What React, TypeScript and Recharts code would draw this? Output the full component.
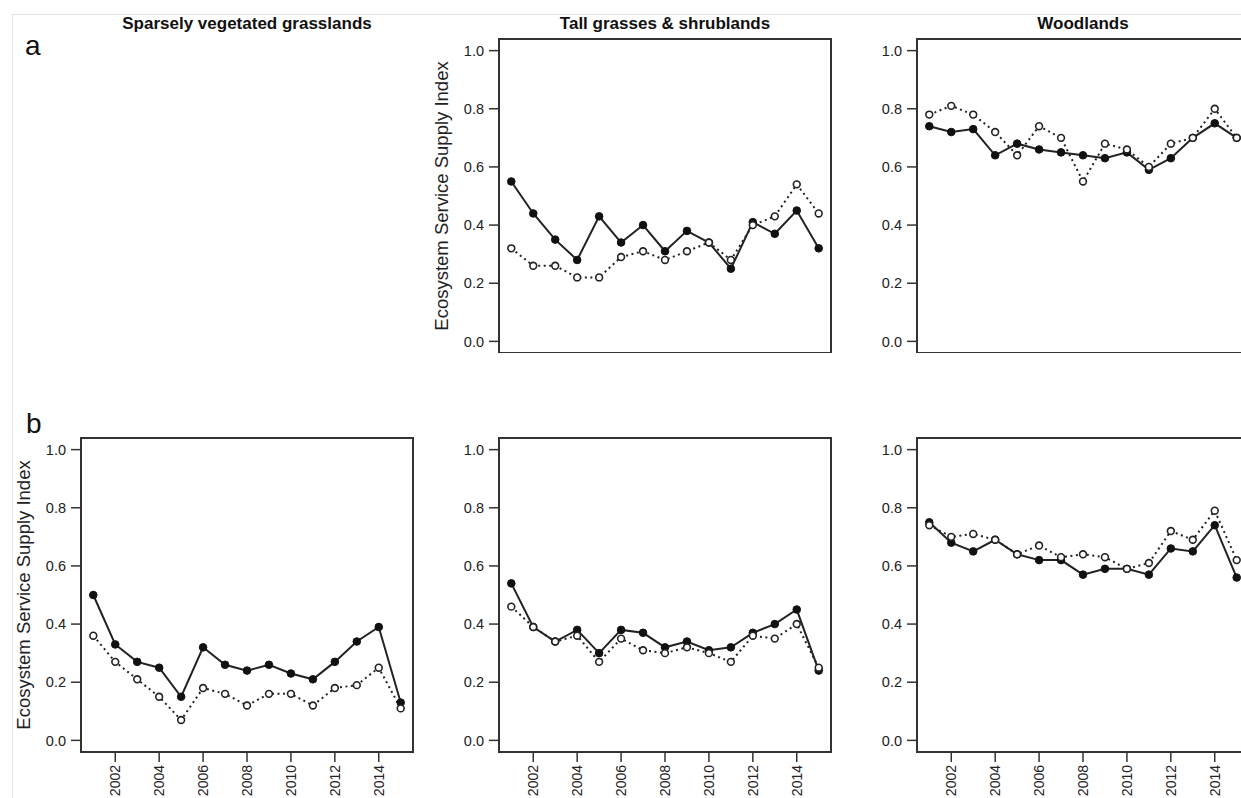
import React from 'react';
import { LineChart, Line, XAxis, YAxis, ReferenceArea } from 'recharts';

const years = [2001, 2002, 2003, 2004, 2005, 2006, 2007, 2008, 2009, 2010, 2011, 2012, 2013, 2014, 2015];
const yearTicks = [2002, 2004, 2006, 2008, 2010, 2012, 2014];
const indexTicks = [0, 0.2, 0.4, 0.6, 0.8, 1.0];

// row a
const aTallSolid = [0.55, 0.44, 0.35, 0.28, 0.43, 0.34, 0.40, 0.31, 0.38, 0.34, 0.25, 0.41, 0.37, 0.45, 0.32];
const aTallOpen = [0.32, 0.26, 0.26, 0.22, 0.22, 0.29, 0.31, 0.28, 0.31, 0.34, 0.28, 0.40, 0.43, 0.54, 0.44];
const aWoodSolid = [0.74, 0.72, 0.73, 0.64, 0.68, 0.66, 0.65, 0.64, 0.63, 0.65, 0.59, 0.63, 0.70, 0.75, 0.70];
const aWoodOpen = [0.78, 0.81, 0.78, 0.72, 0.64, 0.74, 0.70, 0.55, 0.68, 0.66, 0.60, 0.68, 0.70, 0.80, 0.70];

// row b
const bSparseSolid = [0.50, 0.33, 0.27, 0.25, 0.15, 0.32, 0.26, 0.24, 0.26, 0.23, 0.21, 0.27, 0.34, 0.39, 0.13];
const bSparseOpen = [0.36, 0.27, 0.21, 0.15, 0.07, 0.18, 0.16, 0.12, 0.16, 0.16, 0.12, 0.18, 0.19, 0.25, 0.11];
const bTallSolid = [0.54, 0.39, 0.34, 0.38, 0.30, 0.38, 0.37, 0.32, 0.34, 0.31, 0.32, 0.37, 0.40, 0.45, 0.24];
const bTallOpen = [0.46, 0.39, 0.34, 0.36, 0.27, 0.35, 0.31, 0.30, 0.32, 0.30, 0.27, 0.36, 0.35, 0.40, 0.25];
const bWoodSolid = [0.75, 0.68, 0.65, 0.69, 0.64, 0.62, 0.62, 0.57, 0.59, 0.59, 0.57, 0.66, 0.65, 0.74, 0.56];
const bWoodOpen = [0.74, 0.70, 0.71, 0.69, 0.64, 0.67, 0.63, 0.64, 0.63, 0.59, 0.61, 0.72, 0.69, 0.79, 0.62];

const titles = ['Sparsely vegetated grasslands', 'Tall grasses & shrublands', 'Woodlands'];
const yLabel = 'Ecosystem Service Supply Index';

const font = '"Liberation Sans", Arial, Helvetica, sans-serif';
const ink = '#222';
const xDomain = [2000.44, 2015.56];
const yDomain = [-0.04, 1.04];

const YearTick = (props: any) => {
  const { x, y, payload } = props;
  return (
    <g transform={`translate(${x},${y})`}>
      <text transform="rotate(-90)" textAnchor="end" dy="0.36em" fontSize={14} fill={ink} fontFamily={font}>
        {payload.value}
      </text>
    </g>
  );
};

type PanelProps = {
  left: number;
  top: number;
  solid: number[];
  open: number[];
  showYLabel?: boolean;
  showX?: boolean;
};

const Panel = ({ left, top, solid, open, showYLabel, showX }: PanelProps) => {
  const data = years.map((yr, i) => ({ year: yr, solid: solid[i], open: open[i] }));
  const xh = showX ? 50 : 0;
  return (
    <div style={{ position: 'absolute', left, top }}>
      <LineChart width={70 + 332 + 5} height={5 + 314 + xh} data={data} margin={{ top: 5, right: 5, left: 0, bottom: 0 }}>
        <XAxis
          dataKey="year"
          type="number"
          domain={xDomain}
          allowDataOverflow
          ticks={yearTicks}
          height={xh}
          tick={showX ? <YearTick /> : false}
          tickLine={showX ? { stroke: '#333', strokeWidth: 1.5 } : false}
          tickSize={10}
          tickMargin={3}
          axisLine={{ stroke: '#333', strokeWidth: 2 }}
        />
        <YAxis
          type="number"
          domain={yDomain}
          allowDataOverflow
          ticks={indexTicks}
          tickFormatter={(v: number) => v.toFixed(1)}
          width={70}
          tickSize={10}
          tickMargin={5}
          tick={{ fill: ink, fontSize: 14.5, fontFamily: font }}
          tickLine={{ stroke: '#333', strokeWidth: 1.5 }}
          axisLine={{ stroke: '#333', strokeWidth: 2 }}
          label={
            showYLabel
              ? {
                  value: yLabel,
                  angle: -90,
                  position: 'insideLeft',
                  offset: 12,
                  style: { textAnchor: 'middle', fontSize: 18.5, fill: ink, fontFamily: font },
                }
              : undefined
          }
        />
        <ReferenceArea
          x1={xDomain[0]}
          x2={xDomain[1]}
          y1={yDomain[0]}
          y2={yDomain[1]}
          fill="none"
          stroke="#333"
          strokeWidth={2}
          ifOverflow="visible"
        />
        <Line
          dataKey="solid"
          stroke={ink}
          strokeWidth={2}
          dot={{ r: 3.8, fill: '#111', stroke: '#111', strokeWidth: 1 }}
          isAnimationActive={false}
        />
        <Line
          dataKey="open"
          stroke={ink}
          strokeWidth={2}
          strokeDasharray="2 3.5"
          dot={{ r: 3.4, fill: '#fff', stroke: ink, strokeWidth: 1.6, strokeDasharray: 'none' }}
          isAnimationActive={false}
        />
      </LineChart>
    </div>
  );
};

export default function App() {
  return (
    <div
      style={{
        position: 'absolute',
        left: 0,
        top: 0,
        width: 1241,
        height: 798,
        overflow: 'hidden',
        background: '#fff',
        fontFamily: font,
      }}
    >
      <div
        style={{
          position: 'absolute',
          left: 12,
          top: 14,
          width: 1241,
          height: 798,
          borderTop: '1px solid #e2e2e2',
          borderLeft: '1px solid #e2e2e2',
        }}
      />
      <Panel left={429} top={34} solid={aTallSolid} open={aTallOpen} showYLabel />
      <Panel left={847} top={34} solid={aWoodSolid} open={aWoodOpen} />
      <Panel left={11} top={433} solid={bSparseSolid} open={bSparseOpen} showYLabel showX />
      <Panel left={429} top={433} solid={bTallSolid} open={bTallOpen} showX />
      <Panel left={847} top={433} solid={bWoodSolid} open={bWoodOpen} showX />
      <svg width={1241} height={798} style={{ position: 'absolute', left: 0, top: 0, pointerEvents: 'none' }}>
        <text x={247} y={29} textAnchor="middle" fontSize={17} fontWeight="bold" fill="#111" fontFamily={font}>
          {titles[0]}
        </text>
        <text x={665} y={29} textAnchor="middle" fontSize={17} fontWeight="bold" fill="#111" fontFamily={font}>
          {titles[1]}
        </text>
        <text x={1083} y={29} textAnchor="middle" fontSize={17} fontWeight="bold" fill="#111" fontFamily={font}>
          {titles[2]}
        </text>
        <text x={25} y={55} fontSize={28} fill="#111" fontFamily={font}>
          a
        </text>
        <text x={26} y={433} fontSize={28} fill="#111" fontFamily={font}>
          b
        </text>
      </svg>
    </div>
  );
}
